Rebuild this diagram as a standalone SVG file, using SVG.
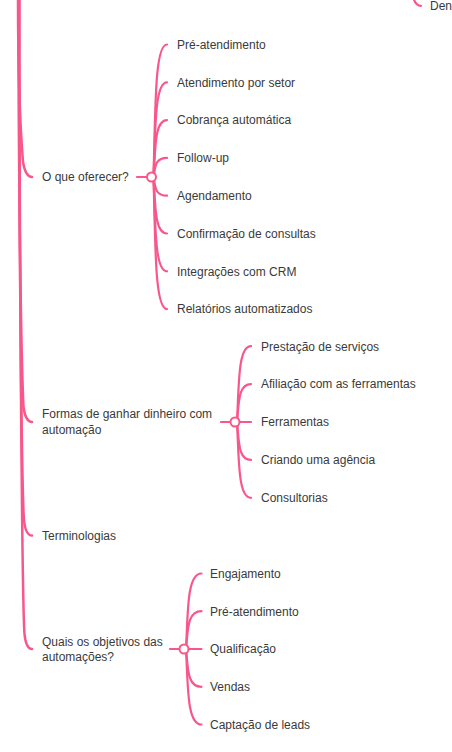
<svg xmlns="http://www.w3.org/2000/svg" width="452" height="752" viewBox="0 0 452 752">
<style>
.c{fill:none;stroke:#f8578b;stroke-linecap:round}
.t1{stroke-width:2.5}
.t2{stroke-width:2.2}
text{font-family:"Liberation Sans",Arial,sans-serif;font-size:12px;fill:#3a3a3a}
.dot{fill:#fff;stroke:#f8578b;stroke-width:2}
</style>
<rect width="452" height="752" fill="#fff"/>
<g id="connectors">
<path class="c t1" d="M18,-2 C18,88 21,137 23,162 Q25.5,177 32,177"/>
<path class="c t1" d="M18.5,-2 C18.5,211 21.5,366 23.5,407 Q25.5,422 32,422"/>
<path class="c t1" d="M19,-2 C19,268 22,495 24,520 Q25.5,535.5 32,535.5"/>
<path class="c t1" d="M19.5,-2 C19.5,325 22.5,609 24.5,634 Q26,649 32,649"/>
<path class="c t2" d="M412,-10 Q413.5,5.8 421,5.8"/>
<path class="c t2" d="M137,177 L151.5,177"/>
<path class="c t2" d="M153.5,177 C155.5,110.75 154.5,44.5 167,44.5"/>
<path class="c t2" d="M153.5,177 C155.5,129.65 154.5,82.3 167,82.3"/>
<path class="c t2" d="M153.5,177 C155.5,148.55 154.5,120.1 167,120.1"/>
<path class="c t2" d="M153.5,177 C155.5,167.45 154.5,157.9 167,157.9"/>
<path class="c t2" d="M153.5,177 C155.5,186.35 154.5,195.7 167,195.7"/>
<path class="c t2" d="M153.5,177 C155.5,205.25 154.5,233.5 167,233.5"/>
<path class="c t2" d="M153.5,177 C155.5,224.15 154.5,271.3 167,271.3"/>
<path class="c t2" d="M153.5,177 C155.5,243.05 154.5,309.1 167,309.1"/>
<path class="c t2" d="M221,422 L251,422"/>
<path class="c t2" d="M237,422 C239,384.1 238,346.2 251,346.2"/>
<path class="c t2" d="M237,422 C239,403.05 238,384.1 251,384.1"/>
<path class="c t2" d="M237,422 C239,440.95 238,459.9 251,459.9"/>
<path class="c t2" d="M237,422 C239,459.9 238,497.8 251,497.8"/>
<path class="c t2" d="M170,649 L201.5,649"/>
<path class="c t2" d="M186,649 C188,611.25 187,573.5 201.5,573.5"/>
<path class="c t2" d="M186,649 C188,630.1 187,611.2 201.5,611.2"/>
<path class="c t2" d="M186,649 C188,667.9 187,686.8 201.5,686.8"/>
<path class="c t2" d="M186,649 C188,686.75 187,724.5 201.5,724.5"/>
</g>
<g id="node-den"><text x="430" y="10.2">Den</text></g>
<g id="node-oferecer">
<text x="42" y="181.3">O que oferecer?</text>
<circle class="dot" cx="151.5" cy="177" r="4.5"/>
</g>
<g id="node-pre1"><text x="177" y="48.8">Pré-atendimento</text></g>
<g id="node-setor"><text x="177" y="86.6">Atendimento por setor</text></g>
<g id="node-cobranca"><text x="177" y="124.4">Cobrança automática</text></g>
<g id="node-follow"><text x="177" y="162.2">Follow-up</text></g>
<g id="node-agend"><text x="177" y="200">Agendamento</text></g>
<g id="node-confirm"><text x="177" y="237.8">Confirmação de consultas</text></g>
<g id="node-crm"><text x="177" y="275.6">Integrações com CRM</text></g>
<g id="node-relat"><text x="177" y="313.4">Relatórios automatizados</text></g>
<g id="node-formas">
<text x="42" y="418">Formas de ganhar dinheiro com</text>
<text x="42" y="433.5">automação</text>
<circle class="dot" cx="235" cy="422" r="4.5"/>
</g>
<g id="node-prest"><text x="261" y="350.5">Prestação de serviços</text></g>
<g id="node-afil"><text x="261" y="388.4">Afiliação com as ferramentas</text></g>
<g id="node-ferr"><text x="261" y="426.3">Ferramentas</text></g>
<g id="node-agencia"><text x="261" y="464.2">Criando uma agência</text></g>
<g id="node-consult"><text x="261" y="502.1">Consultorias</text></g>
<g id="node-term"><text x="42" y="539.8">Terminologias</text></g>
<g id="node-quais">
<text x="42" y="645.5">Quais os objetivos das</text>
<text x="42" y="661">automações?</text>
<circle class="dot" cx="184" cy="649" r="4.5"/>
</g>
<g id="node-engaj"><text x="210" y="577.8">Engajamento</text></g>
<g id="node-pre2"><text x="210" y="615.5">Pré-atendimento</text></g>
<g id="node-qualif"><text x="210" y="653.3">Qualificação</text></g>
<g id="node-vendas"><text x="210" y="691.1">Vendas</text></g>
<g id="node-capt"><text x="210" y="728.8">Captação de leads</text></g>
</svg>
